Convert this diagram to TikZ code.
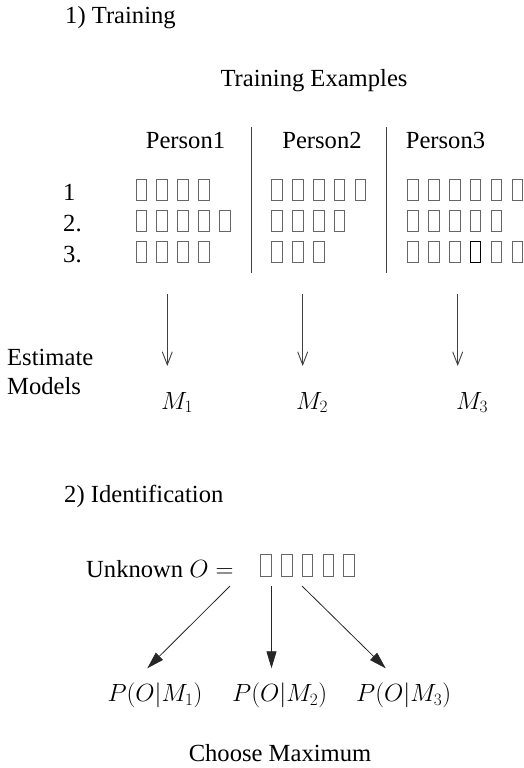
\documentclass[tikz,border=0pt]{standalone}
\usepackage[no-math]{fontspec}
\setmainfont{Liberation Serif}
\usetikzlibrary{arrows.meta}
\begin{document}
\begin{tikzpicture}[x=1pt,y=-1pt,
  txt/.style={inner sep=0pt,font=\fontsize{24.6}{29}\selectfont},
  mth/.style={inner sep=0pt,font=\fontsize{27}{32}\selectfont},
  glyph/.style={draw=black!60,line width=0.9pt,minimum width=10.5pt,minimum height=21pt,inner sep=0pt,outer sep=0pt,anchor=south west},
  darkglyph/.style={glyph,draw=black,line width=1.1pt},
  divider/.style={draw=black!75,line width=1pt},
  openarrow/.style={draw=black!75,line width=0.9pt,-{Straight Barb[length=13pt,width=10pt,line width=0.9pt]}},
  solidarrow/.style={draw=black!85,line width=0.8pt,-{Triangle[length=17pt,width=10pt]}}]
\useasboundingbox (0,0) rectangle (524,768);

% ---- 1) Training ----
\node[txt,anchor=base west] (train) at (65,24) {1) Training};
\node[txt,anchor=base] (examples) at (314,86) {Training Examples};
\node[txt,anchor=base] (p1) at (185.5,148) {Person1};
\node[txt,anchor=base] (p2) at (322,148) {Person2};
\node[txt,anchor=base] (p3) at (445.5,148) {Person3};

\coordinate (d1t) at (251,127); \coordinate (d1b) at (251,273);
\coordinate (d2t) at (386.7,127); \coordinate (d2b) at (386.7,273);
\draw[divider] (d1t) -- (d1b);
\draw[divider] (d2t) -- (d2b);

\node[txt,anchor=base west] (r1) at (63,200) {1};
\node[txt,anchor=base west] (r2) at (63,231.5) {2.};
\node[txt,anchor=base west] (r3) at (63,262.5) {3.};

\foreach \bx/\n/\by/\nm in {136/4/200/a1, 136/5/231.5/a2, 136/4/262.5/a3,
    271.7/5/200/b1, 271.7/4/231.5/b2, 271.7/3/262.5/b3,
    407.7/6/200/c1, 407.7/5/231.5/c2}
  \foreach \i in {1,...,\n}
    \node[glyph] (g\nm\i) at ({\bx+(\i-1)*20.9},\by) {};
\foreach \i/\st in {1/glyph,2/glyph,3/glyph,4/darkglyph,5/glyph,6/glyph}
  \node[\st] (gc3\i) at ({407.7+(\i-1)*20.9},262.5) {};

% arrows to models
\coordinate (a1s) at (167.3,294); \coordinate (a1e) at (167.3,366);
\coordinate (a2s) at (302.7,294); \coordinate (a2e) at (302.7,366);
\coordinate (a3s) at (457.7,294); \coordinate (a3e) at (457.7,366);
\draw[openarrow] (a1s) -- (a1e);
\draw[openarrow] (a2s) -- (a2e);
\draw[openarrow] (a3s) -- (a3e);

\node[txt,anchor=base west] (est) at (7,365) {Estimate};
\node[txt,anchor=base west] (mod) at (7,394) {Models};
\node[txt,anchor=base] (m1) at (177,409) {$M_1$};
\node[txt,anchor=base] (m2) at (312,409) {$M_2$};
\node[txt,anchor=base] (m3) at (472,409) {$M_3$};

% ---- 2) Identification ----
\node[txt,anchor=base west] (ident) at (64,502.5) {2) Identification};
\node[txt,anchor=base west] (unk) at (86,577) {Unknown $O =$};
\foreach \i in {1,...,5}
  \node[glyph,minimum height=22pt] (go\i) at ({260.7+(\i-1)*20.8},576) {};

\coordinate (u1) at (230,586); \coordinate (e1) at (147.3,668.3);
\coordinate (u2) at (271.5,586); \coordinate (e2) at (271.5,668.3);
\coordinate (u3) at (302,586); \coordinate (e3) at (385.7,668.3);
\draw[solidarrow] (u1) -- (e1);
\draw[solidarrow] (u2) -- (e2);
\draw[solidarrow] (u3) -- (e3);

\node[mth,anchor=base west] (q1) at (107.3,701.7) {$P(O|M_1)$};
\node[mth,anchor=base west] (q2) at (232,701.7) {$P(O|M_2)$};
\node[mth,anchor=base west] (q3) at (356,701.7) {$P(O|M_3)$};

\node[txt,anchor=base] (choose) at (280,761) {Choose Maximum};
\end{tikzpicture}
\end{document}
